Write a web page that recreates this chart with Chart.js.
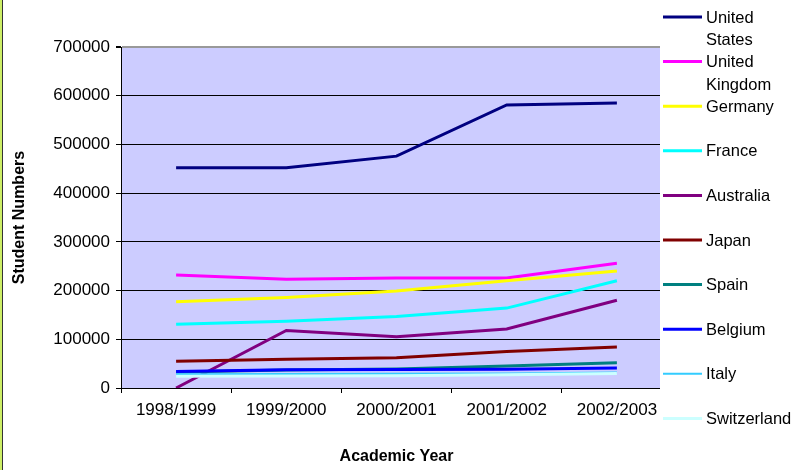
<!DOCTYPE html>
<html>
<head>
<meta charset="utf-8">
<script src="https://cdn.jsdelivr.net/npm/chart.js@4/dist/chart.umd.min.js"></script>
<style>
  html, body { margin: 0; padding: 0; background: #ffffff; }
  #wrap { position: relative; width: 797px; height: 470px; overflow: hidden; }
  #c { position: absolute; left: 0; top: 0; }
  #frame { position: absolute; left: 0; top: 0; width: 2px; height: 470px; background: #CCEE66; border-right: 1px solid #333333; pointer-events: none; }
</style>
</head>
<body>
<div id="wrap">
  <canvas id="c" width="797" height="470"></canvas>
  <div id="frame"></div>
</div>
<script>
// ---- Data ----
const categories = ['1998/1999', '1999/2000', '2000/2001', '2001/2002', '2002/2003'];
const yTickMin = 0;
const yTickMax = 700000;
const yTickStep = 100000;

const seriesNames = ['United States', 'United Kingdom', 'Germany', 'France', 'Australia',
                     'Japan', 'Spain', 'Belgium', 'Italy', 'Switzerland'];

const unitedStates  = [452000, 452000, 476000, 581000, 585000];
const unitedKingdom = [232000, 223000, 226000, 226000, 256000];
const germany       = [177000, 186000, 199000, 220000, 240000];
const france        = [131000, 137000, 147000, 164000, 220000];
const australia     = [0, 118000, 105000, 121000, 180000];
const japan         = [55000, 59000, 62000, 75000, 84000];
const spain         = [33000, 37000, 39000, 45000, 52000];
const belgium       = [34000, 37500, 38000, 38500, 41000];
const italy         = [28000, 28500, 29000, 30000, 32000];
const switzerland   = [24000, 24500, 25000, 27000, 30000];

const seriesValues = [unitedStates, unitedKingdom, germany, france, australia,
                      japan, spain, belgium, italy, switzerland];

// ---- Styles ----
const seriesColors = ['#000080', '#FF00FF', '#FFFF00', '#00FFFF', '#800080',
                      '#800000', '#008080', '#0000FF', '#33CCFF', '#CCFFFF'];
const seriesWidths = [3, 3, 3, 3, 3, 3, 3, 3, 2, 3];

const FONT = "'Liberation Sans', Arial, Helvetica, sans-serif";
Chart.defaults.font.family = FONT;
Chart.defaults.color = '#000000';

const datasets = seriesNames.map((name, i) => ({
  label: name,
  data: seriesValues[i],
  borderColor: seriesColors[i],
  backgroundColor: seriesColors[i],
  borderWidth: seriesWidths[i],
  pointRadius: 0,
  pointHoverRadius: 0,
  tension: 0,
  fill: false,
  order: seriesNames.length - i
}));

const plotBg = {
  id: 'plotBg',
  beforeDraw(chart) {
    const { ctx, chartArea: a } = chart;
    ctx.save();
    ctx.fillStyle = '#CCCCFF';
    ctx.fillRect(a.left, a.top, a.right - a.left, a.bottom - a.top);
    ctx.restore();
  }
};

// Legend box (white, overlapping the right end of the plot area)
const sideLegend = {
  id: 'sideLegend',
  afterDraw(chart) {
    const ctx = chart.ctx;
    const boxLeft = 660;
    const x0 = boxLeft + 3;
    const x1 = x0 + 39;
    const tx = x1 + 4;
    const yStart = 17, step = 44.6, lineGap = 22.5;
    const maxW = chart.width - tx - 2;
    ctx.save();
    ctx.fillStyle = '#ffffff';
    ctx.fillRect(boxLeft, 0, chart.width - boxLeft, chart.height);
    ctx.font = '16.5px ' + FONT;
    ctx.textBaseline = 'middle';
    ctx.textAlign = 'left';
    ctx.fillStyle = '#000000';
    chart.data.datasets.forEach((ds, i) => {
      const y = yStart + step * i;
      ctx.strokeStyle = ds.borderColor;
      ctx.lineWidth = ds.borderWidth;
      ctx.beginPath();
      ctx.moveTo(x0, y);
      ctx.lineTo(x1, y);
      ctx.stroke();
      const words = ds.label.split(' ');
      const lines = [];
      let cur = '';
      words.forEach(w => {
        const t = cur ? cur + ' ' + w : w;
        if (cur && ctx.measureText(t).width > maxW) { lines.push(cur); cur = w; }
        else { cur = t; }
      });
      lines.push(cur);
      lines.forEach((l, j) => ctx.fillText(l, tx, y + 1 + j * lineGap));
    });
    ctx.restore();
  }
};

new Chart(document.getElementById('c'), {
  type: 'line',
  data: { labels: categories, datasets },
  plugins: [plotBg, sideLegend],
  options: {
    responsive: false,
    animation: false,
    events: [],
    layout: { padding: { left: 0, top: 47, right: 125, bottom: 0 } },
    plugins: { legend: { display: false }, tooltip: { enabled: false } },
    scales: {
      x: {
        type: 'category',
        offset: true,
        grid: { offset: true, drawOnChartArea: false, drawTicks: true, tickLength: 5, color: '#000000', lineWidth: 1 },
        border: { display: true, color: '#000000', width: 1 },
        ticks: { color: '#000000', font: { size: 17 }, padding: 7, maxRotation: 0, autoSkip: false },
        title: { display: true, text: 'Academic Year', color: '#000000',
                 font: { size: 16, weight: 'bold' }, padding: { top: 0, bottom: 4 } },
        afterFit(scale) { scale.height = 82; }
      },
      y: {
        min: yTickMin,
        max: yTickMax,
        ticks: { stepSize: yTickStep, color: '#000000', font: { size: 17 }, padding: 6,
                 callback: v => String(v) },
        grid: {
          color: ctx => (ctx.tick && ctx.tick.value === yTickMax) ? '#999999' : '#000000',
          lineWidth: ctx => (ctx.tick && ctx.tick.value === yTickMax) ? 2 : 1,
          tickColor: '#000000',
          drawTicks: true, tickLength: 5
        },
        border: { display: true, color: '#000000', width: 1 },
        title: { display: true, text: 'Student Numbers', color: '#000000',
                 font: { size: 16, weight: 'bold' }, padding: { top: 10, bottom: 0 } },
        afterFit(scale) { scale.width = 121; }
      }
    }
  }
});
</script>
</body>
</html>
